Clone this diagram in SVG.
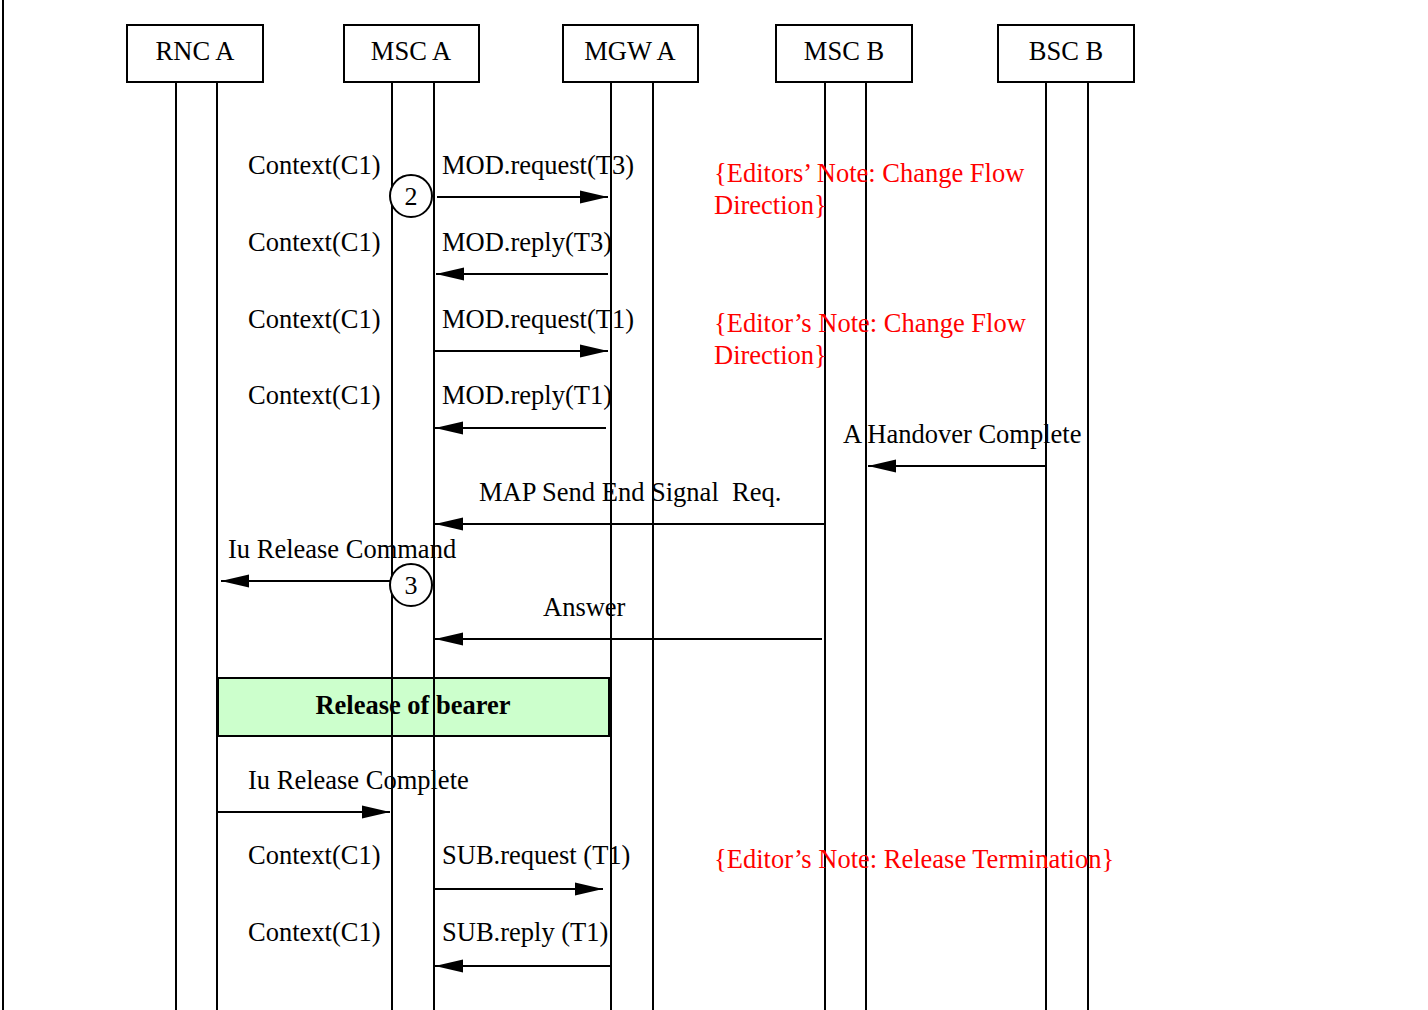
<svg xmlns="http://www.w3.org/2000/svg" width="1428" height="1010" viewBox="0 0 1428 1010">
  <style>
    .box { fill: #ffffff; stroke: #000000; stroke-width: 2; }
    .life { stroke: #000000; stroke-width: 2; fill: none; }
    .msg { stroke: #000000; stroke-width: 2; fill: none; marker-end: url(#arrow); }
    .t { font-family: "Liberation Serif", "Times New Roman", serif; font-size: 26.5px; fill: #000000; white-space: pre; }
    .name { text-anchor: middle; }
    .note { fill: #ff0000; }
    .num { font-family: "Liberation Serif", "Times New Roman", serif; font-size: 26px; text-anchor: middle; fill: #000000; }
    .circ { fill: #ffffff; stroke: #000000; stroke-width: 2; }
  </style>
  <defs>
    <marker id="arrow" markerUnits="userSpaceOnUse" markerWidth="28" markerHeight="14" refX="28" refY="7" orient="auto">
      <path d="M0,0.5 L28,7 L0,13.5 z" fill="#000000"/>
    </marker>
  </defs>

  <rect x="0" y="0" width="1428" height="1010" fill="#ffffff"/>
  <!-- page margin rule -->
  <line x1="3" y1="0" x2="3" y2="1010" stroke="#000000" stroke-width="2"/>

  <!-- entities with their double lifelines -->
  <g id="rnc-a">
    <rect class="box" x="127" y="25" width="136" height="57"/>
    <text class="t name" x="195" y="60">RNC A</text>
    <line class="life" x1="176" y1="82" x2="176" y2="1010"/>
    <line class="life" x1="217" y1="82" x2="217" y2="1010"/>
  </g>
  <g id="msc-a">
    <rect class="box" x="344" y="25" width="135" height="57"/>
    <text class="t name" x="411" y="60">MSC A</text>
    <line class="life" x1="392" y1="82" x2="392" y2="1010"/>
    <line class="life" x1="434" y1="82" x2="434" y2="1010"/>
  </g>
  <g id="mgw-a">
    <rect class="box" x="563" y="25" width="135" height="57"/>
    <text class="t name" x="630" y="60">MGW A</text>
    <line class="life" x1="611" y1="82" x2="611" y2="1010"/>
    <line class="life" x1="653" y1="82" x2="653" y2="1010"/>
  </g>
  <g id="msc-b">
    <rect class="box" x="776" y="25" width="136" height="57"/>
    <text class="t name" x="844" y="60">MSC B</text>
    <line class="life" x1="825" y1="82" x2="825" y2="1010"/>
    <line class="life" x1="866" y1="82" x2="866" y2="1010"/>
  </g>
  <g id="bsc-b">
    <rect class="box" x="998" y="25" width="136" height="57"/>
    <text class="t name" x="1066" y="60">BSC B</text>
    <line class="life" x1="1046" y1="82" x2="1046" y2="1010"/>
    <line class="life" x1="1088" y1="82" x2="1088" y2="1010"/>
  </g>

  <!-- bearer release block -->
  <g id="release-bearer">
    <rect x="218" y="678" width="391" height="58" fill="#ccffcc" stroke="#000000" stroke-width="2"/>
    <line class="life" x1="392" y1="678" x2="392" y2="736"/>
    <line class="life" x1="434" y1="678" x2="434" y2="736"/>
    <text class="t" x="413" y="714" text-anchor="middle" font-weight="bold">Release of bearer</text>
  </g>

  <!-- messages -->
  <g id="connectors">
    <line class="msg" x1="437" y1="197" x2="608" y2="197"/>
    <line class="msg" x1="608" y1="274" x2="436" y2="274"/>
    <line class="msg" x1="434" y1="351" x2="608" y2="351"/>
    <line class="msg" x1="606" y1="428" x2="435" y2="428"/>
    <line class="msg" x1="1046" y1="466" x2="868" y2="466"/>
    <line class="msg" x1="825" y1="524" x2="435" y2="524"/>
    <line class="msg" x1="390" y1="581" x2="221" y2="581"/>
    <line class="msg" x1="822" y1="639" x2="435" y2="639"/>
    <line class="msg" x1="217" y1="812" x2="390" y2="812"/>
    <line class="msg" x1="434" y1="889" x2="603" y2="889"/>
    <line class="msg" x1="611" y1="966" x2="435" y2="966"/>
  </g>

  <!-- step markers -->
  <g id="step-2">
    <circle class="circ" cx="411" cy="196" r="21"/>
    <text class="num" x="411" y="205">2</text>
  </g>
  <g id="step-3">
    <circle class="circ" cx="411" cy="585" r="21"/>
    <text class="num" x="411" y="594">3</text>
  </g>

  <!-- message labels -->
  <g id="labels">
    <text class="t" x="248" y="174">Context(C1)</text>
    <text class="t" x="442" y="174">MOD.request(T3)</text>
    <text class="t" x="248" y="251">Context(C1)</text>
    <text class="t" x="442" y="251">MOD.reply(T3)</text>
    <text class="t" x="248" y="328">Context(C1)</text>
    <text class="t" x="442" y="328">MOD.request(T1)</text>
    <text class="t" x="248" y="404">Context(C1)</text>
    <text class="t" x="442" y="404">MOD.reply(T1)</text>
    <text class="t" x="843" y="443">A Handover Complete</text>
    <text class="t" x="479" y="501" xml:space="preserve">MAP Send End Signal  Req.</text>
    <text class="t" x="228" y="558">Iu Release Command</text>
    <text class="t" x="543" y="616">Answer</text>
    <text class="t" x="248" y="789">Iu Release Complete</text>
    <text class="t" x="248" y="864">Context(C1)</text>
    <text class="t" x="442" y="864">SUB.request (T1)</text>
    <text class="t" x="248" y="941">Context(C1)</text>
    <text class="t" x="442" y="941">SUB.reply (T1)</text>
  </g>

  <!-- editorial notes -->
  <g id="notes">
    <text class="t note" x="714" y="182">{Editors’ Note: Change Flow</text>
    <text class="t note" x="714" y="214">Direction}</text>
    <text class="t note" x="714" y="332">{Editor’s Note: Change Flow</text>
    <text class="t note" x="714" y="364">Direction}</text>
    <text class="t note" x="714" y="868">{Editor’s Note: Release Termination}</text>
  </g>
</svg>
